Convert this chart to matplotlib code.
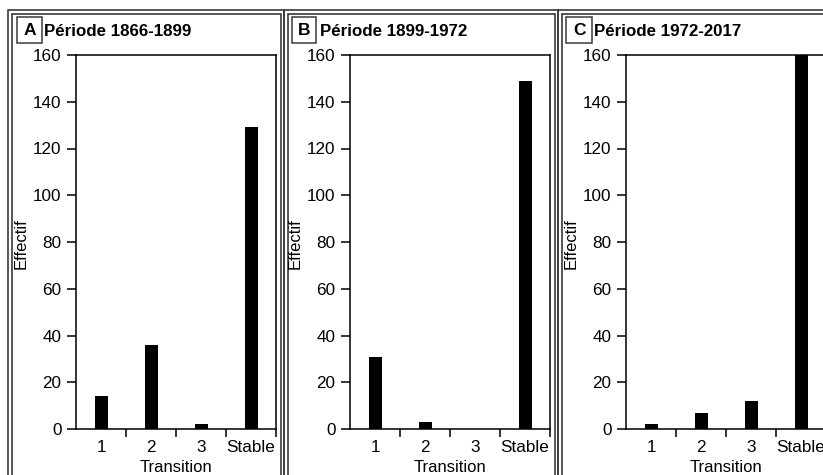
import matplotlib
matplotlib.use("Agg")
import matplotlib.pyplot as plt
from matplotlib.patches import Rectangle

plt.rcParams['font.family'] = ['Liberation Sans', 'DejaVu Sans']

categories = ['1', '2', '3', 'Stable']
letters = ['A', 'B', 'C']
titles = ['Période 1866-1899', 'Période 1899-1972', 'Période 1972-2017']
values_A = [14, 36, 2, 129]
values_B = [31, 3, 0, 149]
values_C = [2, 7, 12, 170]
all_values = [values_A, values_B, values_C]
yticks = [0, 20, 40, 60, 80, 100, 120, 140, 160]

W, H = 823, 475
fig = plt.figure(figsize=(W / 100, H / 100), dpi=100)

def fx(px):
    return px / W

def fy(py):
    return 1 - py / H

# panel layout in pixels
axes_left = [76, 350, 626]
axes_w = 200
axes_top, axes_bottom = 55, 429
outer_l = [8, 284, 558]
outer_r = [284, 558, 840]
inner_l = [12, 288, 562]
inner_r = [281, 555, 840]
box_l = [17, 292, 566]
box_r = [42, 316, 592]
title_x = [44, 320, 594]

border_col = '#3a3a3a'
for i in range(3):
    # outer and inner frames (extend beyond bottom of figure)
    fig.patches.append(Rectangle((fx(outer_l[i]), fy(500)), fx(outer_r[i] - outer_l[i]),
                                 (500 - 10) / H, transform=fig.transFigure, fill=False,
                                 edgecolor=border_col, linewidth=1.2))
    fig.patches.append(Rectangle((fx(inner_l[i]), fy(500)), fx(inner_r[i] - inner_l[i]),
                                 (500 - 14) / H, transform=fig.transFigure, fill=False,
                                 edgecolor=border_col, linewidth=1.2))
    # letter box
    fig.patches.append(Rectangle((fx(box_l[i]), fy(43)), fx(box_r[i] - box_l[i]),
                                 (43 - 17) / H, transform=fig.transFigure, fill=False,
                                 edgecolor=border_col, linewidth=1.1))
    fig.text(fx((box_l[i] + box_r[i]) / 2), fy(30.5), letters[i], ha='center', va='center',
             fontsize=12.5, fontweight='bold')
    fig.text(fx(title_x[i]), fy(31), titles[i], ha='left', va='center',
             fontsize=12.2, fontweight='bold')

    ax = fig.add_axes([fx(axes_left[i]), fy(axes_bottom), fx(axes_w),
                       (axes_bottom - axes_top) / H])
    x = list(range(1, len(categories) + 1))
    ax.bar(x, all_values[i], width=0.26, color='black')
    ax.set_xlim(0.5, 4.5)
    ax.set_ylim(0, 160)
    ax.set_yticks(yticks)
    ax.set_xticks([1.5, 2.5, 3.5, 4.5])
    ax.set_xticklabels([])
    ax.set_xticks(x, minor=True)
    ax.set_xticklabels(categories, minor=True)
    ax.tick_params(axis='x', which='major', direction='out', length=6, width=1.1)
    ax.tick_params(axis='x', which='minor', length=0, pad=8, labelsize=12.3)
    ax.tick_params(axis='y', direction='out', length=6.5, width=1.1, pad=4, labelsize=12.3)
    for s in ax.spines.values():
        s.set_linewidth(1.1)
    fig.text(fx(axes_left[i] + axes_w / 2), fy(467), 'Transition', ha='center', va='center',
             fontsize=12)
    fig.text(fx(axes_left[i] - 55), fy(244), 'Effectif', ha='center', va='center',
             rotation=90, fontsize=12)

fig.savefig('out.png', dpi=100)
